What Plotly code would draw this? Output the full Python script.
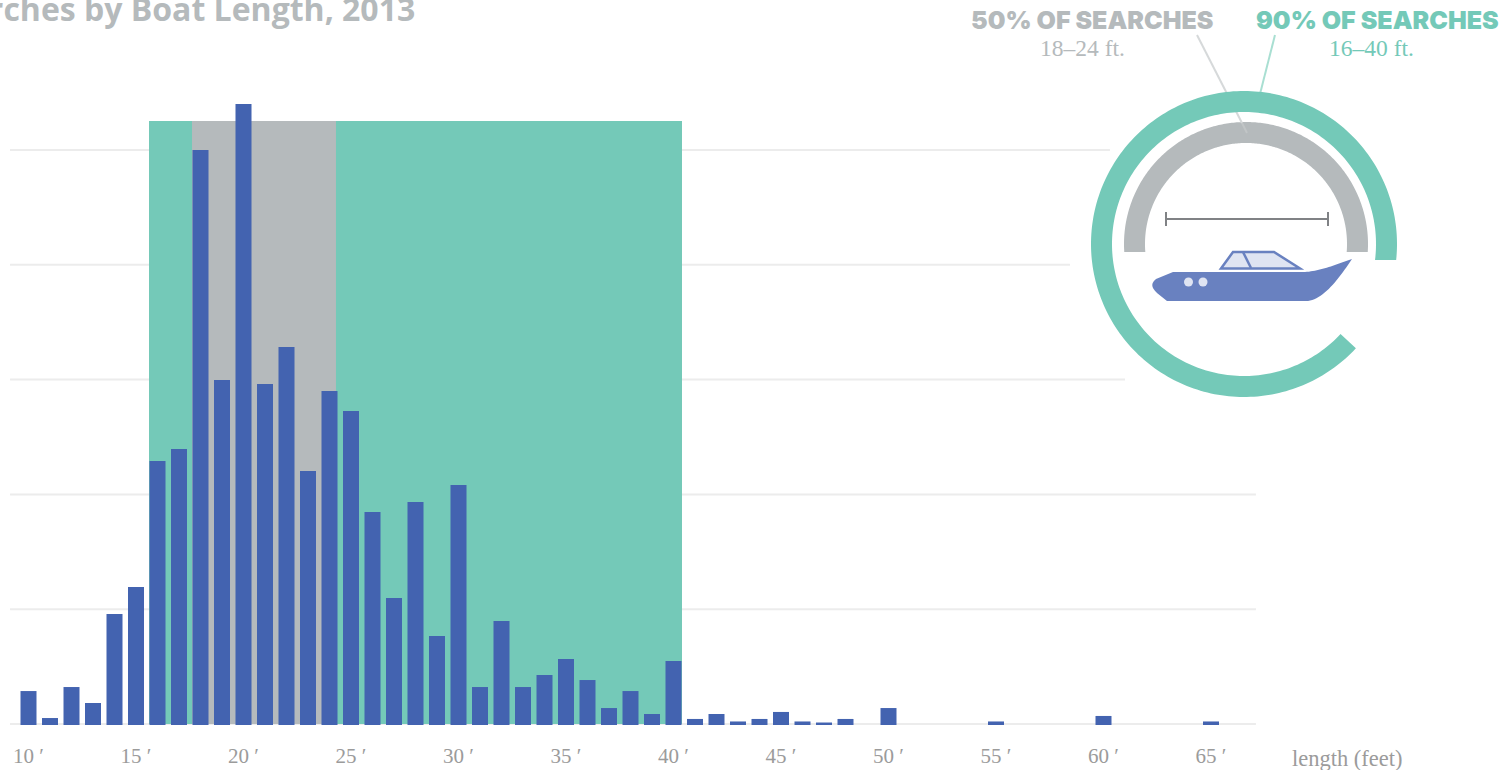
import numpy as np
import plotly.graph_objects as go

# ---------- data ----------
lengths = [10,11,12,13,14,15,16,17,18,19,20,21,22,23,24,25,26,27,28,29,30,31,32,33,34,35,36,37,38,39,40,
           41,42,43,44,45,46,47,48,50,55,60,65]
searches = [0.287,0.052,0.322,0.183,0.958,1.193,2.291,2.395,5.0,2.997,5.401,2.962,3.284,2.204,2.901,2.726,
            1.847,1.098,1.934,0.767,2.082,0.322,0.897,0.322,0.427,0.566,0.383,0.139,0.287,0.087,0.549,
            0.044,0.087,0.022,0.044,0.105,0.022,0.013,0.044,0.139,0.022,0.07,0.022]
tick_values = [10,15,20,25,30,35,40,45,50,55,60,65]
tick_labels = [f"{v}\u00a0\u2032" for v in tick_values]
grid_values = [0,1,2,3,4,5]
grid_ends = [67.09,67.09,67.09,61.0,58.44,60.3]
grid_start = 9.14
band_90 = (15.605,40.395)
band_50 = (17.605,24.302)
band_top = 5.253

# ---------- styles ----------
TEAL="#74c9b8"; GREY="#b5babc"; BLUE="#4363b0"; GRID="#ececec"; TICK="#9b9b9b"
BOAT="#6981c0"; PALE="#dfe4f2"; DIM="#808285"
W,H=1512,770; BOTTOM=725
PXFT=21.5; X0=28.5; PXGRID=114.8

X=lambda px:px/W
Y=lambda py:(BOTTOM-py)/BOTTOM

def ring(cx,cy,ro,ri,a0o,a0i,a1o,a1i):
    o=np.radians(np.linspace(a0o,a1o,240)); i=np.radians(np.linspace(a1i,a0i,240))
    pts=[(cx+ro*np.cos(t),cy+ro*np.sin(t)) for t in o]+[(cx+ri*np.cos(t),cy+ri*np.sin(t)) for t in i]
    return "M "+" L ".join(f"{X(a):.5f},{Y(b):.5f}" for a,b in pts)+" Z"

def poly(points,close=True):
    s="M "+" L ".join(f"{X(a):.5f},{Y(b):.5f}" for a,b in points)
    return s+(" Z" if close else "")

def bez(p0,p1,p2,p3,n=24):
    t=np.linspace(0,1,n)[:,None]
    p0,p1,p2,p3=map(np.array,(p0,p1,p2,p3))
    return [tuple(v) for v in (1-t)**3*p0+3*(1-t)**2*t*p1+3*(1-t)*t**2*p2+t**3*p3]

shapes=[]
for v,e in zip(grid_values,grid_ends):
    shapes.append(dict(type="line",xref="x",yref="y",x0=grid_start,x1=e,y0=v,y1=v,layer="below",line=dict(color=GRID,width=2)))
shapes.append(dict(type="rect",xref="x",yref="y",x0=band_90[0],x1=band_90[1],y0=0,y1=band_top,layer="below",fillcolor=TEAL,line_width=0))
shapes.append(dict(type="rect",xref="x",yref="y",x0=band_50[0],x1=band_50[1],y0=0,y1=band_top,layer="below",fillcolor=GREY,line_width=0))

def pshape(path,fill=None,line=None,width=0):
    d=dict(type="path",xref="paper",yref="paper",path=path,layer="above",line=dict(width=width,color=line or "rgba(0,0,0,0)"))
    d["fillcolor"]=fill or "rgba(0,0,0,0)"
    shapes.append(d)

# grey arc, leader lines, teal arc
pshape(ring(1246,244,122,101,np.degrees(np.arcsin(8/122)),np.degrees(np.arcsin(8/101)),
            -180-np.degrees(np.arcsin(8/122)),-180-np.degrees(np.arcsin(8/101))),fill=GREY)
pshape(poly([(1197,35),(1242,123)],False),line="#d6d9da",width=2)
pshape(poly([(1242,123),(1247,133)],False),line="rgba(214,217,218,0.35)",width=2)
pshape(poly([(1275,35),(1260,94)],False),line="#a9dfd2",width=2)
pshape(ring(1244,244,153,132,np.degrees(np.arcsin(16/153)),np.degrees(np.arcsin(16/132)),-317,-317),fill=TEAL)

# dimension bar
pshape(poly([(1166,219),(1328,219)],False),line=DIM,width=2)
pshape(poly([(1166,212),(1166,226)],False),line=DIM,width=2)
pshape(poly([(1328,212),(1328,226)],False),line=DIM,width=2)

# boat
hull=[(1173,272),(1305,272)]+bez((1305,272),(1320,271),(1335,265),(1352,259))+\
     bez((1352,259),(1338,280),(1322,301),(1306,301))+[(1167,301),(1157,293)]+\
     bez((1157,293),(1152,288),(1150,284),(1156,279))+[(1173,272)]
pshape(poly(hull),fill=BOAT)
pshape(poly([(1221,268.5),(1233,252),(1274,252),(1300,268.5)]),fill=PALE,line=BOAT,width=2.5)
pshape(poly([(1243,252),(1251,268)],False),line=BOAT,width=2.5)
for cx in (1188.5,1203):
    shapes.append(dict(type="circle",xref="paper",yref="paper",x0=X(cx-4.5),x1=X(cx+4.5),y0=Y(282+4.5),y1=Y(282-4.5),
                       layer="above",fillcolor=PALE,line_width=0))

def note(text,px,py,size,color,family,anchor="center",weight=None):
    f=dict(size=size,color=color,family=family)
    if weight: f["weight"]=weight
    return dict(text=text,xref="paper",yref="paper",x=X(px),y=Y(py),xanchor=anchor,yanchor="middle",
                showarrow=False,font=f,borderpad=0,borderwidth=0)

anns=[
 note("Searches by Boat Length, 2013",415,9,32,GREY,"Open Sans","right",700),
 note("50% OF SEARCHES",1092,20,25,GREY,"Inter","center",900),
 note("90% OF SEARCHES",1377.5,20,25,TEAL,"Inter","center",900),
 note("18–24 ft.",1082,48,23.5,GREY,"Liberation Serif"),
 note("16–40 ft.",1371,48,23.5,TEAL,"Liberation Serif"),
 note("length (feet)",1347,758,22.5,TICK,"Liberation Serif"),
]

fig=go.Figure(go.Bar(x=lengths,y=np.array(searches)+1/PXGRID,base=-1/PXGRID,width=16/PXFT,
                     marker=dict(color=BLUE,line_width=0),hoverinfo="skip"))
fig.update_layout(
    width=W,height=H,margin=dict(l=0,r=0,t=0,b=H-BOTTOM,pad=0),
    paper_bgcolor="white",plot_bgcolor="rgba(0,0,0,0)",showlegend=False,
    shapes=shapes,annotations=anns,
    xaxis=dict(range=[10-X0/PXFT,10+(W-X0)/PXFT],tickmode="array",tickvals=tick_values,ticktext=tick_labels,
               showgrid=False,zeroline=False,showline=False,ticks="",ticklabelstandoff=16,tickangle=0,
               tickfont=dict(family="Liberation Serif",size=21,color=TICK)),
    yaxis=dict(range=[-1/PXGRID,724/PXGRID],showgrid=False,zeroline=False,showline=False,showticklabels=False,ticks=""),
)
fig.write_html("out.html",config=dict(displayModeBar=False),
               post_script="document.body.style.margin='0';document.body.style.overflow='hidden';")
